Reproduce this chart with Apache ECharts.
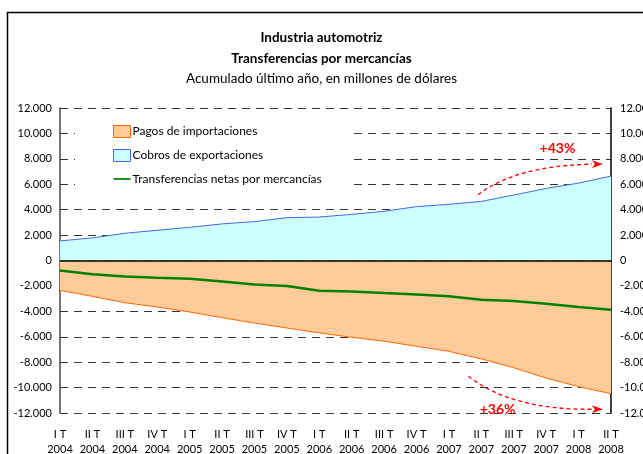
<!DOCTYPE html>
<html lang="es">
<head>
    <meta charset="UTF-8">
    <title>Industria automotriz</title>
    <script src="https://cdn.jsdelivr.net/npm/echarts@6/dist/echarts.min.js"></script>
    <style>
        body { margin: 0; background: #fff; }
        #chart { width: 643px; height: 454px; }
    </style>
</head>
<body>
<div id="chart"></div>
<script>
    // datos: trimestres y años del eje x
    var quarters = ['I T', 'II T', 'III T', 'IV T', 'I T', 'II T', 'III T', 'IV T', 'I T',
                    'II T', 'III T', 'IV T', 'I T', 'II T', 'III T', 'IV T', 'I T', 'II T'];
    var years = ['2004', '2004', '2004', '2004', '2005', '2005', '2005', '2005', '2006',
                 '2006', '2006', '2006', '2007', '2007', '2007', '2007', '2008', '2008'];
    // millones de dólares, acumulado último año
    var cobros = [1540, 1780, 2140, 2380, 2610, 2880, 3060, 3370, 3420,
                  3630, 3870, 4240, 4420, 4650, 5150, 5670, 6090, 6640];
    var pagos = [-2350, -2820, -3320, -3660, -4050, -4500, -4920, -5310, -5700,
                 -6040, -6350, -6750, -7150, -7740, -8440, -9250, -9930, -10480];
    var netas = [-790, -1080, -1260, -1360, -1440, -1650, -1890, -2010, -2380,
                 -2430, -2560, -2670, -2810, -3080, -3190, -3400, -3660, -3870];
    // anotaciones: [índice, valor] inicio, control, fin y posición del texto
    var notaArriba = { text: '+43%', from: [12.9, 5180], ctrl: [14.05, 7450], to: [16.75, 7600], label: [15.35, 8850] };
    var notaAbajo = { text: '+36%', from: [12.6, -9100], ctrl: [13.9, -11750], to: [16.75, -11700], label: [13.5, -11690] };

    var categories = [];
    for (var i = 0; i < quarters.length; i++) {
        categories.push(quarters[i] + '\n' + years[i]);
    }

    function miles(v) {
        var s = Math.abs(v).toString().replace(/\B(?=(\d{3})+(?!\d))/g, '.');
        return (v < 0 ? '-' : '') + s;
    }

    var fuente = 'Lato, "Open Sans", sans-serif';
    var myChart = echarts.init(document.getElementById('chart'));
    var option = {
        backgroundColor: '#fff',
        animation: false,
        textStyle: { fontFamily: fuente, color: '#000' },
        title: [
            { text: 'Industria automotriz', left: 'center', top: 26,
              textStyle: { fontSize: 13.5, fontWeight: 'bold', color: '#000', fontFamily: fuente } },
            { text: 'Transferencias por mercancías', left: 'center', top: 47,
              textStyle: { fontSize: 13.5, fontWeight: 'bold', color: '#000', fontFamily: fuente } },
            { text: 'Acumulado último año, en millones de dólares', left: 'center', top: 67,
              textStyle: { fontSize: 13.5, fontWeight: 'normal', color: '#000', fontFamily: fuente } }
        ],
        legend: {
            orient: 'vertical',
            left: 75,
            top: 118,
            backgroundColor: '#fff',
            padding: [7, 32, 11, 38],
            itemGap: 11,
            itemWidth: 17,
            itemHeight: 12,
            textStyle: { fontSize: 12, color: '#000', fontFamily: fuente, padding: [0, 0, 0, -3] },
            data: [
                { name: 'Pagos de importaciones', icon: 'rect',
                  itemStyle: { color: '#FFCC99', borderColor: '#FF6600', borderWidth: 1 } },
                { name: 'Cobros de exportaciones', icon: 'rect',
                  itemStyle: { color: '#CCFFFF', borderColor: '#4169E1', borderWidth: 1 } },
                { name: 'Transferencias netas por mercancías',
                  icon: 'path://M0,5 L20,5 L20,7 L0,7 Z',
                  itemStyle: { color: '#008000' } }
            ]
        },
        grid: { left: 60, right: 32, top: 108, bottom: 41, outerBoundsMode: 'none', containLabel: false },
        xAxis: {
            type: 'category',
            boundaryGap: false,
            data: categories,
            axisLine: { show: false },
            axisTick: { show: false },
            axisLabel: { margin: 14, fontSize: 11, lineHeight: 15, color: '#000', interval: 0 }
        },
        yAxis: [
            {
                type: 'value', min: -12000, max: 12000, interval: 2000,
                axisLine: { show: true, lineStyle: { color: '#444', width: 1.5 } },
                axisTick: { show: false },
                axisLabel: { fontSize: 11, color: '#000', margin: 8, formatter: miles },
                splitLine: { show: true, lineStyle: { color: '#333', type: [8, 6], width: 1 } }
            },
            {
                type: 'value', min: -12000, max: 12000, interval: 2000, position: 'right',
                axisLine: { show: true, lineStyle: { color: '#000', width: 1.5 } },
                axisTick: { show: false },
                axisLabel: { fontSize: 11, color: '#000', margin: 9, formatter: miles },
                splitLine: { show: false }
            }
        ],
        series: [
            {
                name: 'Cobros de exportaciones',
                type: 'line',
                data: cobros,
                symbol: 'none',
                lineStyle: { color: '#4169E1', width: 1 },
                itemStyle: { color: '#CCFFFF' },
                areaStyle: { color: '#CCFFFF', opacity: 1 }
            },
            {
                name: 'Pagos de importaciones',
                type: 'line',
                data: pagos,
                symbol: 'none',
                lineStyle: { color: '#FF6600', width: 1 },
                itemStyle: { color: '#FFCC99' },
                areaStyle: { color: '#FFCC99', opacity: 1 },
                markLine: {
                    silent: true,
                    symbol: 'none',
                    label: { show: false },
                    lineStyle: { color: '#000', type: 'solid', width: 1.5 },
                    data: [{ yAxis: 0 }]
                }
            },
            {
                name: 'Transferencias netas por mercancías',
                type: 'line',
                data: netas,
                symbol: 'none',
                z: 5,
                lineStyle: { color: '#008000', width: 2.5 },
                itemStyle: { color: '#008000' }
            }
        ]
    };
    myChart.setOption(option);

    // el eje de categorías redondea el índice, así que interpolamos entre dos categorías
    function aPixel(p) {
        var i0 = Math.floor(p[0]);
        var f = p[0] - i0;
        var a = myChart.convertToPixel({ gridIndex: 0 }, [i0, p[1]]);
        if (f === 0) return a;
        var b = myChart.convertToPixel({ gridIndex: 0 }, [i0 + 1, p[1]]);
        return [a[0] + (b[0] - a[0]) * f, a[1]];
    }

    // flechas rojas punteadas con el porcentaje
    function flecha(nota) {
        var a = aPixel(nota.from);
        var c = aPixel(nota.ctrl);
        var b = aPixel(nota.to);
        var t = aPixel(nota.label);
        var dx = b[0] - c[0], dy = b[1] - c[1];
        var len = Math.sqrt(dx * dx + dy * dy);
        var ux = dx / len, uy = dy / len;
        var L = 11, W = 4;
        var base = [b[0] - ux * L, b[1] - uy * L];
        return [
            { type: 'bezierCurve', z: 100,
              shape: { x1: a[0], y1: a[1], x2: base[0], y2: base[1], cpx1: c[0], cpy1: c[1] },
              style: { stroke: '#FF0000', lineWidth: 1.3, lineDash: [4, 3], fill: null } },
            { type: 'polygon', z: 100,
              shape: { points: [[b[0], b[1]], [base[0] - uy * W, base[1] + ux * W], [base[0] + ux * 3, base[1] + uy * 3], [base[0] + uy * W, base[1] - ux * W]] },
              style: { fill: '#FF0000' } },
            { type: 'text', z: 100, x: t[0], y: t[1],
              style: { text: nota.text, fill: '#FF0000', font: 'bold 14px ' + fuente, align: 'center', verticalAlign: 'middle' } }
        ];
    }

    var graficos = [
        { type: 'rect', z: 100, silent: true,
          shape: { x: 7.5, y: 12.5, width: 700, height: 500 },
          style: { fill: null, stroke: '#000', lineWidth: 1.5 } }
    ];
    graficos = graficos.concat(flecha(notaArriba), flecha(notaAbajo));
    myChart.setOption({ graphic: graficos });
</script>
</body>
</html>
